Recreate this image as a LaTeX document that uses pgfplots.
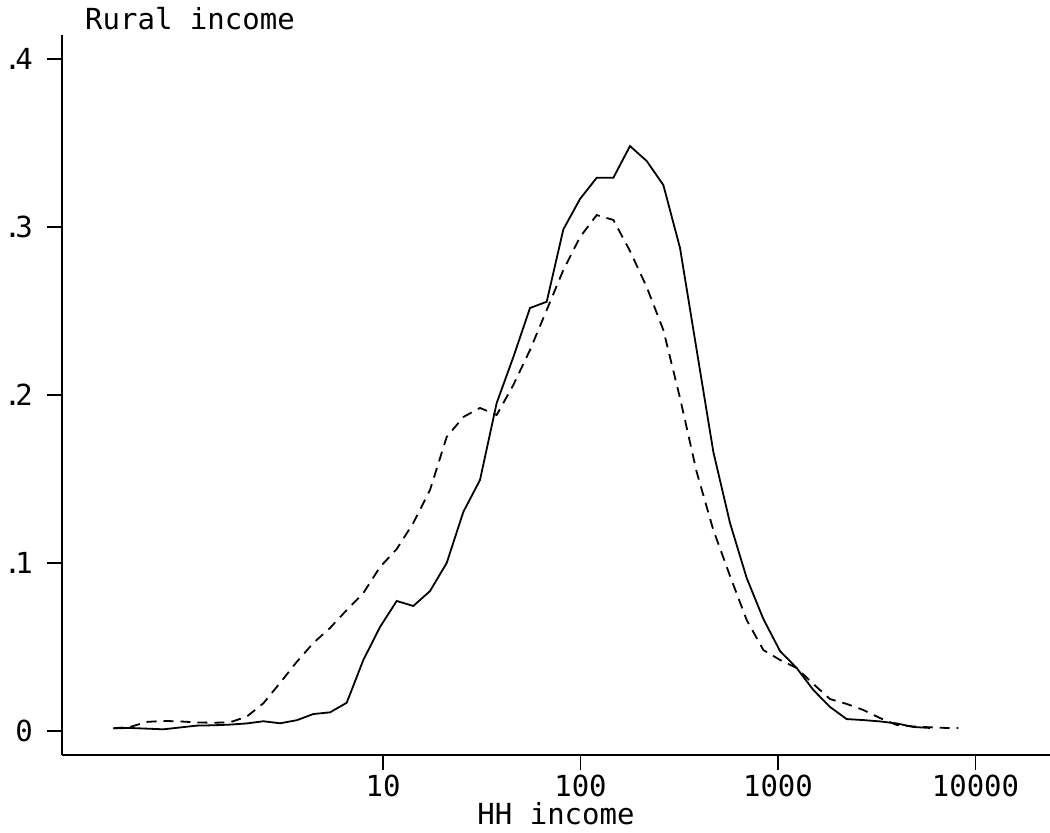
\documentclass[border=0pt]{standalone}
\usepackage{fontspec}
\setmainfont{DejaVu Sans Mono}
\usepackage{pgfplots}
\pgfplotsset{compat=1.18}
\usepackage{pgfplotstable}

% kernel density of household income, two groups
\pgfplotstableread{
x y
0.431 0.0016
0.524 0.0018
0.636 0.0014
0.772 0.0010
0.938 0.0021
1.139 0.0032
1.384 0.0034
1.680 0.0038
2.040 0.0045
2.479 0.0058
3.010 0.0046
3.656 0.0064
4.440 0.0101
5.392 0.0111
6.549 0.0168
7.953 0.0423
9.658 0.0619
11.73 0.0774
14.24 0.0744
17.30 0.0833
21.01 0.1000
25.51 0.1304
30.98 0.1494
37.63 0.1952
45.71 0.2226
55.51 0.2518
67.43 0.2555
81.87 0.2986
99.43 0.3167
120.8 0.3293
146.7 0.3293
178.1 0.3482
216.3 0.3393
262.7 0.3250
319.1 0.2875
387.5 0.2268
470.6 0.1661
571.5 0.1238
694.0 0.0911
843.0 0.0667
1024 0.0476
1243 0.0375
1510 0.0244
1834 0.0143
2227 0.0071
2705 0.0065
3285 0.0057
3990 0.0045
4845 0.0024
5886 0.0018
}\solid

\pgfplotstableread{
x y
0.431 0.0016
0.524 0.0024
0.636 0.0054
0.772 0.0060
0.938 0.0057
1.139 0.0051
1.384 0.0049
1.680 0.0052
2.040 0.0085
2.479 0.0165
3.010 0.0286
3.656 0.0411
4.440 0.0524
5.392 0.0613
6.549 0.0720
7.953 0.0821
9.658 0.0976
11.73 0.1083
14.24 0.1238
17.30 0.1435
21.01 0.1750
25.51 0.1869
30.98 0.1923
37.63 0.1881
45.71 0.2060
55.51 0.2268
67.43 0.2506
81.87 0.2744
99.43 0.2940
120.8 0.3071
146.7 0.3042
178.1 0.2857
216.3 0.2643
262.7 0.2387
319.1 0.1982
387.5 0.1542
470.6 0.1196
571.5 0.0923
694.0 0.0661
843.0 0.0482
1024 0.0423
1243 0.0375
1510 0.0280
1834 0.0190
2227 0.0161
2705 0.0125
3285 0.0077
3990 0.0036
4845 0.0027
5886 0.0022
7147 0.0018
8200 0.0018
}\dashed

\begin{document}
\begin{tikzpicture}[x=1pt,y=1pt]
\useasboundingbox (0,0) rectangle (1050,833);
\begin{axis}[
    at={(62pt,78pt)}, anchor=south west,
    scale only axis, width=988pt, height=720pt,
    xmode=log, xmin=0.2369, xmax=23840,
    ymin=-0.01429, ymax=0.41429,
    axis x line=bottom, axis y line=left,
    axis line style={-, line width=1.6pt, black},
    tick align=outside, major tick length=15pt,
    tick style={line width=1.6pt, black},
    xminorticks=false, yminorticks=false,
    xtick={10,100,1000,10000}, xticklabels={10,100,1000,10000},
    ytick={0,0.1,0.2,0.3,0.4},
    yticklabels={0,{.\kern-0.2em1},{.\kern-0.2em2},{.\kern-0.2em3},{.\kern-0.2em4}},
    font=\fontsize{29}{35}\selectfont,
    xticklabel style={inner sep=0pt, anchor=north, yshift=-5pt},
    yticklabel style={inner sep=0pt, anchor=east, xshift=-14pt},
    title={Rural income},
    title style={at={(axis description cs:0.0233,1)}, anchor=base west, inner sep=0pt, yshift=-1pt},
    xlabel={HH income},
    xlabel style={at={(axis description cs:0.5,0)}, anchor=base, inner sep=0pt, yshift=-69pt},
  ]
  \addplot[black, line width=1.8pt, no marks] table {\solid};
  \addplot[black, line width=1.8pt, no marks, dash pattern=on 10pt off 7pt] table {\dashed};
\end{axis}
\end{tikzpicture}
\end{document}
